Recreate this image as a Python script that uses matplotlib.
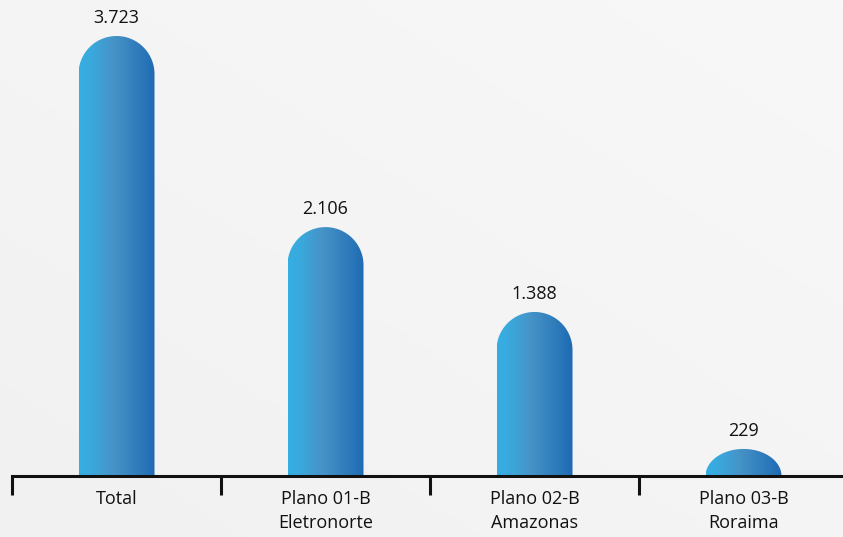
import numpy as np
import matplotlib
matplotlib.use("Agg")
import matplotlib.pyplot as plt
from matplotlib.path import Path
from matplotlib.patches import PathPatch
from matplotlib.colors import LinearSegmentedColormap

categories = ["Total", "Plano 01-B\nEletronorte", "Plano 02-B\nAmazonas", "Plano 03-B\nRoraima"]
values = [3723, 2106, 1388, 229]
value_labels = ["3.723", "2.106", "1.388", "229"]

W, H, DPI = 843, 537, 100
fig = plt.figure(figsize=(W / DPI, H / DPI), dpi=DPI)
plt.rcParams['font.family'] = ['Open Sans', 'DejaVu Sans']

# background gradient
bg = fig.add_axes([0, 0, 1, 1], zorder=-10)
yy, xx = np.mgrid[0:1:200j, 0:1:300j]
g = 0.5 * (xx + yy)
bg.imshow(g, extent=[0, 1, 0, 1], origin="lower", aspect="auto",
          cmap=LinearSegmentedColormap.from_list("bg", ["#F1F1F1", "#F8F8F8"]))
bg.axis("off")

x0_px, x1_px = 12, 848
base_px = 476
ymax = 4000
scale = 440 / 3723  # px per unit
ax_h_px = ymax * scale
ax = fig.add_axes([x0_px / W, (H - base_px) / H, (x1_px - x0_px) / W, ax_h_px / H])
ax.set_xlim(-0.5, 3.5)
ax.set_ylim(0, ymax)
ax.patch.set_alpha(0)
for s in ["top", "right", "left"]:
    ax.spines[s].set_visible(False)
ax.spines["bottom"].set_linewidth(2.2)
ax.spines["bottom"].set_color("#111111")
ax.set_yticks([])
ax.set_xticks([-0.5, 0.5, 1.5, 2.5, 3.5])
ax.set_xticklabels([])
ax.tick_params(axis="x", which="major", length=14, width=2.2, color="#111111", direction="out")
ax.set_xticks(range(len(categories)), minor=True)
ax.set_xticklabels(categories, minor=True, fontsize=13, color="#111111", linespacing=1.45)
ax.tick_params(axis="x", which="minor", length=0, pad=10)

cmap = LinearSegmentedColormap.from_list(
    "bar", [(0, "#36AEE3"), (0.12, "#38ABDF"), (0.45, "#4693C7"), (1.0, "#1E6AB3")])

bw = 76 / ((x1_px - x0_px) / 4)  # bar width in data x units
for i, v in enumerate(values):
    left, right = i - bw / 2, i + bw / 2
    r_px = 76 / 2
    h_px = v * scale
    ry_px = min(r_px, h_px)
    ry = ry_px / scale
    rx = bw / 2
    cx = i
    ybody = v - ry
    t = np.linspace(np.pi, 0, 60)
    arc = np.column_stack([cx + rx * np.cos(t), ybody + ry * np.sin(t)])
    verts = [(left, 0), (left, ybody)] + [tuple(p) for p in arc] + [(right, ybody), (right, 0), (left, 0)]
    codes = [Path.MOVETO] + [Path.LINETO] * (len(verts) - 2) + [Path.CLOSEPOLY]
    patch = PathPatch(Path(verts, codes), facecolor="none", edgecolor="none")
    ax.add_patch(patch)
    grad = np.linspace(0, 1, 256).reshape(1, -1)
    im = ax.imshow(grad, extent=[left, right, 0, v], aspect="auto", cmap=cmap, zorder=2)
    im.set_clip_path(patch)
    ax.text(i, v + 75, value_labels[i], ha="center", va="bottom", fontsize=13, color="#111111")

ax.set_xlim(-0.5, 3.5)
ax.set_ylim(0, ymax)
fig.savefig("out.png", dpi=DPI)
